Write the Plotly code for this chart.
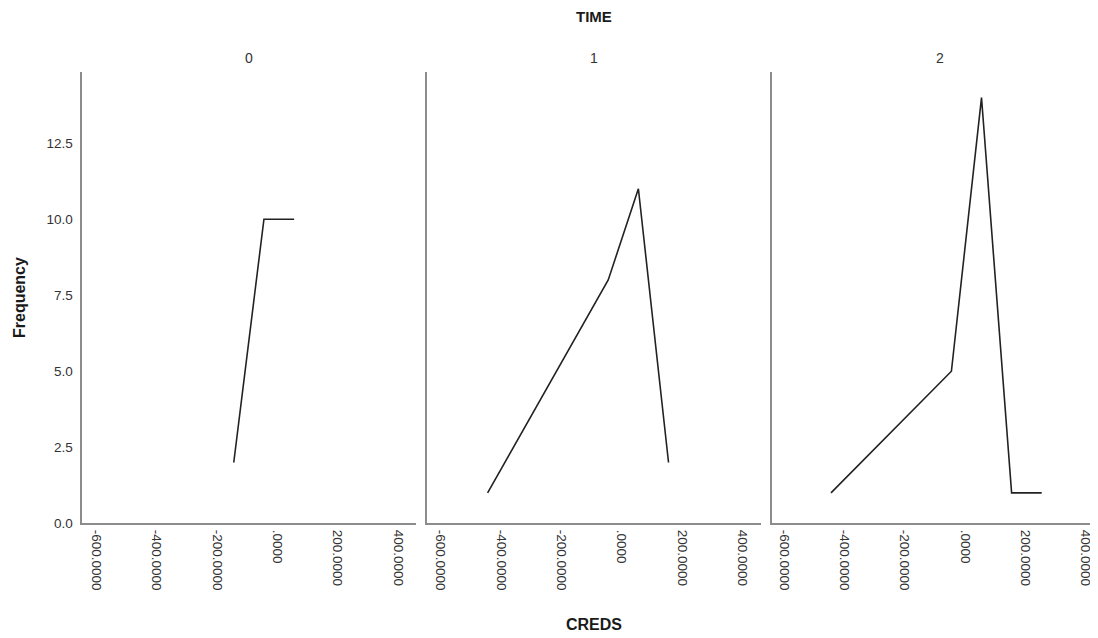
import plotly.graph_objects as go

# Data
time_groups = ["0", "1", "2"]
creds_t0 = [-145, -45, 55]
freq_t0 = [2, 10, 10]
creds_t1 = [-445, -45, 55, 155]
freq_t1 = [1, 8, 11, 2]
creds_t2 = [-445, -45, 55, 155, 255]
freq_t2 = [1, 5, 14, 1, 1]

x_tickvals = [-600, -400, -200, 0, 200, 400]
x_ticktext = ["-600.0000", "-400.0000", "-200.0000", ".0000", "200.0000", "400.0000"]
y_tickvals = [0, 2.5, 5.0, 7.5, 10.0, 12.5]
y_ticktext = ["0.0", "2.5", "5.0", "7.5", "10.0", "12.5"]

# page has an 8px body margin: work in page pixels, convert to figure pixels
OFF = 8
W, H = 1098 - OFF, 638 - OFF
FONT = "Liberation Sans, Arial, sans-serif"
AXIS_COLOR = "#8c8c8c"
LINE_COLOR = "#222222"
TICK_SIZE = 13.5

def px(xp):
    return (xp - OFF) / W

def py(yp):
    return 1 - (yp - OFF) / H

domains_px = [(82.3, 415.7), (426.7, 760.5), (771.7, 1098)]
x_ranges = [(-647, 458), (-647, 460), (-642, 442)]
top_px, bottom_px = 72.0, 523.3

fig = go.Figure()
series = [(creds_t0, freq_t0), (creds_t1, freq_t1), (creds_t2, freq_t2)]
for i, (xs, ys) in enumerate(series):
    suffix = "" if i == 0 else str(i + 1)
    fig.add_trace(go.Scatter(
        x=xs, y=ys, mode="lines",
        line=dict(color=LINE_COLOR, width=1.6),
        xaxis="x" + suffix, yaxis="y" + suffix,
        showlegend=False, hoverinfo="x+y",
    ))

layout = dict(
    width=W, height=H,
    margin=dict(l=0, r=0, t=0, b=0, pad=0),
    paper_bgcolor="white", plot_bgcolor="white",
    font=dict(family=FONT, color="#333333", size=12),
    showlegend=False,
)
for i in range(3):
    suffix = "" if i == 0 else str(i + 1)
    d0, d1 = domains_px[i]
    layout["xaxis" + suffix] = dict(
        domain=[max(px(d0), 0), min(px(d1), 1.0)],
        range=list(x_ranges[i]),
        anchor="y" + suffix,
        tickmode="array", tickvals=x_tickvals, ticktext=x_ticktext,
        tickangle=90, ticks="", ticklabelstandoff=2,
        showgrid=False, zeroline=False, automargin=False,
        showline=True, linecolor=AXIS_COLOR, linewidth=1.5,
        tickfont=dict(size=TICK_SIZE, color="#333333", family=FONT),
    )
    layout["yaxis" + suffix] = dict(
        domain=[py(bottom_px), py(top_px)],
        range=[0, 14.84],
        anchor="x" + suffix,
        tickmode="array", tickvals=y_tickvals, ticktext=y_ticktext,
        showticklabels=(i == 0), ticks="", ticklabelstandoff=5,
        showgrid=False, zeroline=False, automargin=False,
        showline=True, linecolor=AXIS_COLOR, linewidth=1.5,
        tickfont=dict(size=TICK_SIZE, color="#333333", family=FONT),
    )
fig.update_layout(**layout)

annotations = [
    dict(text="<b>TIME</b>", x=px(594), y=py(17), xref="paper", yref="paper",
         xanchor="center", yanchor="middle", showarrow=False,
         font=dict(size=15, color="#1a1a1a", family=FONT)),
    dict(text="<b>CREDS</b>", x=px(594), y=py(624), xref="paper", yref="paper",
         xanchor="center", yanchor="middle", showarrow=False,
         font=dict(size=16, color="#1a1a1a", family=FONT)),
    dict(text="<b>Frequency</b>", x=px(20), y=py(298), xref="paper", yref="paper",
         xanchor="center", yanchor="middle", showarrow=False, textangle=-90,
         font=dict(size=16, color="#1a1a1a", family=FONT)),
]
label_x = [249, 594, 940]
for i, g in enumerate(time_groups):
    annotations.append(dict(
        text=g, x=px(label_x[i]), y=py(58), xref="paper", yref="paper",
        xanchor="center", yanchor="middle", showarrow=False,
        font=dict(size=14, color="#333333", family=FONT)))
fig.update_layout(annotations=annotations)

fig.write_html("out.html")
